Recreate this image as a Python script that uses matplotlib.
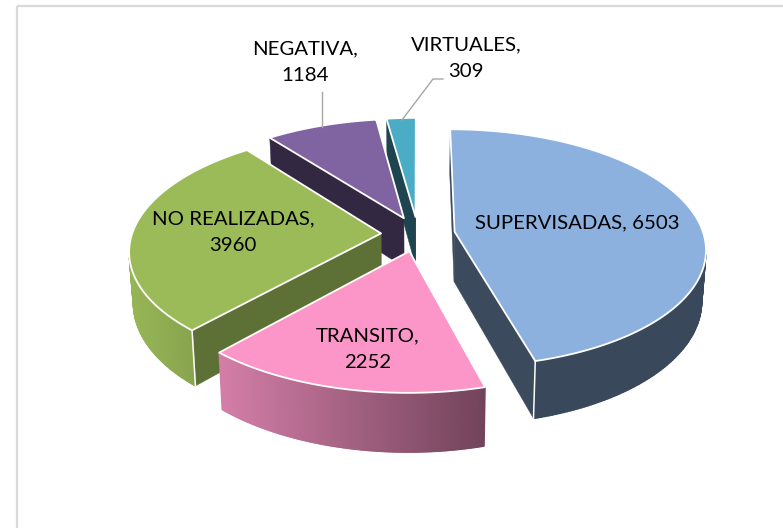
import numpy as np
import matplotlib
matplotlib.use("Agg")
import matplotlib.pyplot as plt
from matplotlib.patches import Polygon
from matplotlib.collections import PolyCollection

plt.rcParams['font.family'] = ['Lato', 'DejaVu Sans']

# data, clockwise from 12 o'clock
categories = ["SUPERVISADAS", "TRANSITO", "NO REALIZADAS", "NEGATIVA", "VIRTUALES"]
values = [6503, 2252, 3960, 1184, 309]

top_colors = ["#8CB1DE", "#FC96C8", "#9BBB59", "#8064A2", "#4BACC6"]
cut_shade = [0.42, 0.5, 0.6, 0.4, 0.4]
draw_order = [4, 3, 2, 0, 1]  # back to front

# projection, all in pixels
cx, cy = 418, 234
radius = 249
explode = 37
squash = 0.47
persp = 5.5e-4
depth = 50
bottom_narrow = 0.985


def project(X, Y, lower=False):
    s = 1 / (1 - persp * Y)
    px = X * s
    py = squash * Y * s
    if lower:
        px = px * bottom_narrow
        py = py + depth * s
    return cx + px, cy + py


def shade(color, f):
    return tuple(np.array(matplotlib.colors.to_rgb(color)) * f)


def rim_factor(x):
    # the side walls get darker from left to right
    return float(np.clip(0.97 - (x - 130) / 370 * 0.54, 0.41, 0.97))


def quad_area(q):
    x, y = np.array(q).T
    return 0.5 * np.sum(x * np.roll(y, -1) - np.roll(x, -1) * y)


fig = plt.figure(figsize=(7.83, 5.28), dpi=100)
ax = fig.add_axes([0, 0, 1, 1])
ax.set_xlim(0, 783)
ax.set_ylim(528, 0)
ax.axis("off")

# chart frame
ax.plot([17, 17], [528, 6], color="#D9D9D9", lw=1.6, solid_capstyle="butt", zorder=0)
ax.plot([17, 783], [6, 6], color="#D9D9D9", lw=1.6, solid_capstyle="butt", zorder=0)

total = sum(values)
edges = np.concatenate([[0], np.cumsum(values) / total * 360])

z = 1
for i in draw_order:
    a0, a1 = np.radians(edges[i]), np.radians(edges[i + 1])
    mid = (a0 + a1) / 2
    ox, oy = explode * np.sin(mid), -explode * np.cos(mid)
    fine = np.linspace(a0, a1, 200)
    fx = ox + radius * np.sin(fine)
    fy = oy - radius * np.cos(fine)
    col = top_colors[i]

    # rim quads first, the corner lines below need to know which are visible
    rim = []
    for k in range(len(fine) - 1):
        q = [project(fx[k], fy[k]), project(fx[k + 1], fy[k + 1]),
             project(fx[k + 1], fy[k + 1], True), project(fx[k], fy[k], True)]
        rim.append(q)
    rim_seen = [quad_area(q) < 0 for q in rim]

    # the two cut faces, only those turned to the viewer
    corners = []
    for n, (xe, ye) in enumerate([(fx[0], fy[0]), (fx[-1], fy[-1])]):
        q = [project(ox, oy), project(xe, ye), project(xe, ye, True), project(ox, oy, True)]
        if (n == 0) == (quad_area(q) < 0):
            c = shade(col, cut_shade[i])
            ax.add_patch(Polygon(q, closed=True, fc=c, ec=c, lw=0.3, zorder=z))
            if rim_seen[0 if n == 0 else -1]:
                corners.append((q[1], q[2]))
    z += 1

    # rim, thin strips so it can have the gradient
    strips = [q for q, seen in zip(rim, rim_seen) if seen]
    cols = [shade(col, rim_factor(q[0][0])) for q in strips]
    if strips:
        ax.add_collection(PolyCollection(strips, facecolors=cols, edgecolors=cols, linewidths=1.0, zorder=z))
    z += 1
    for p, p2 in corners:
        ax.plot([p[0], p2[0]], [p[1], p2[1]], color="white", lw=1.1, zorder=z)

    # top face with its white outline
    tx, ty = project(fx, fy)
    ax_, ay_ = project(ox, oy)
    pts = np.column_stack([np.r_[ax_, tx], np.r_[ay_, ty]])
    ax.add_patch(Polygon(pts, closed=True, fc=col, ec="white", lw=1.3, joinstyle="round", zorder=z))
    z += 1

# labels
txt = dict(ha="center", va="center", fontsize=14.7, color="black", zorder=z + 1)
ax.text(305, 62, f"{categories[3]},\n{values[3]}", linespacing=1.65, **txt)
ax.text(466, 58, f"{categories[4]},\n{values[4]}", linespacing=1.65, **txt)
ax.text(233, 232, f"{categories[2]},\n{values[2]}", linespacing=1.65, **txt)
ax.text(368, 349, f"{categories[1]},\n{values[1]}", linespacing=1.65, **txt)
ax.text(577, 223, f"{categories[0]}, {values[0]}", **txt)

# leader lines
ax.plot([322, 322], [92, 127], color="#A6A6A6", lw=1.0, zorder=z)
ax.plot([443, 433, 402], [79, 79, 120], color="#A6A6A6", lw=1.0, zorder=z)

fig.savefig("out.png", dpi=100, facecolor="white")
